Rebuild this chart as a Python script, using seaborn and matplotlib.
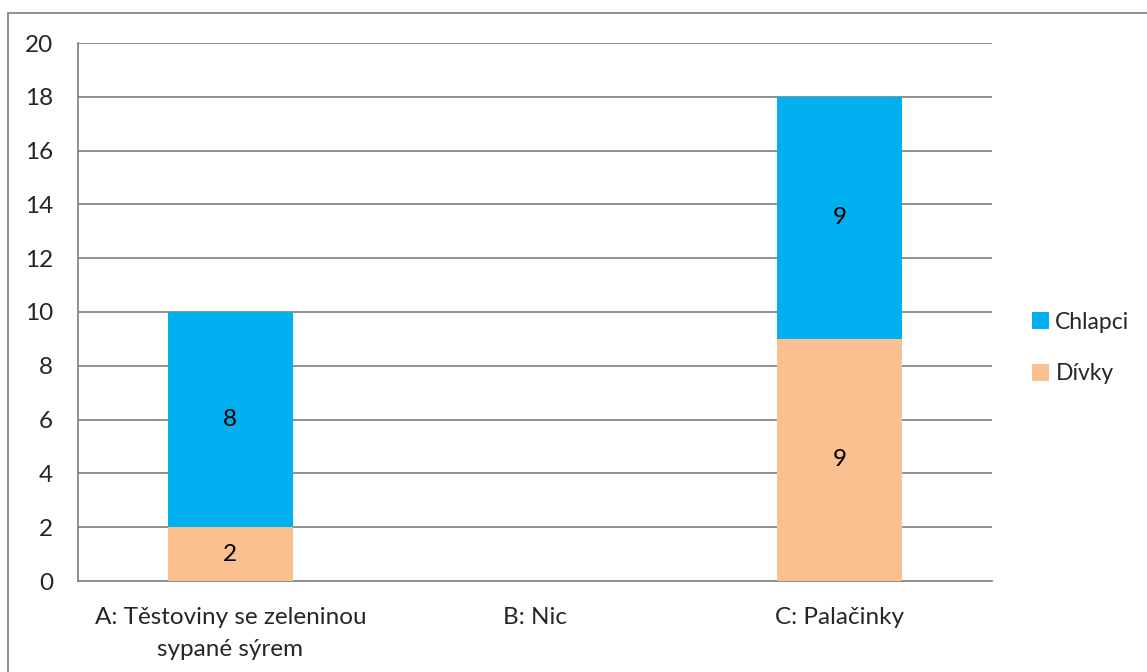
import matplotlib
matplotlib.use("Agg")
import matplotlib.pyplot as plt
from matplotlib.lines import Line2D
from matplotlib.patches import Patch
import seaborn as sns
import pandas as pd

categories = ["A: Těstoviny se zeleninou\nsypané sýrem", "B: Nic", "C: Palačinky"]
divky = [2, 0, 9]
chlapci = [8, 0, 9]
y_ticks = [0, 2, 4, 6, 8, 10, 12, 14, 16, 18, 20]

BLUE = "#00B0F0"
PEACH = "#FAC090"
GRID = "#878787"
FS = 17.5

sns.set_theme(style="white")
plt.rcParams["font.family"] = ["Lato", "DejaVu Sans"]

df = pd.DataFrame({
    "kategorie": categories,
    "Dívky": divky,
    "Chlapci": chlapci,
})
df["celkem"] = df["Dívky"] + df["Chlapci"]

fig = plt.figure(figsize=(11.47, 6.72), dpi=100)
ax = fig.add_axes([78 / 1147, 91 / 672, (992 - 78) / 1147, (581 - 43) / 672])

# stacked bars: total in blue, girls drawn over the lower part
sns.barplot(data=df, x="kategorie", y="celkem", color=BLUE, width=0.41,
            saturation=1, linewidth=0, ax=ax, zorder=3)
sns.barplot(data=df, x="kategorie", y="Dívky", color=PEACH, width=0.41,
            saturation=1, linewidth=0, ax=ax, zorder=3)

for i, (d, c) in enumerate(zip(divky, chlapci)):
    if d:
        ax.text(i, d / 2, str(d), ha="center", va="center", fontsize=FS, color="black", zorder=4)
    if c:
        ax.text(i, d + c / 2, str(c), ha="center", va="center", fontsize=FS, color="black", zorder=4)

ax.set_xlim(-0.5, 2.5)
ax.set_ylim(0, 20)
ax.set_yticks(y_ticks)
ax.set_yticklabels([str(t) for t in y_ticks], fontsize=FS)
ax.yaxis.grid(True, color=GRID, linewidth=1.3, zorder=0)
ax.set_axisbelow(True)
ax.set_xlabel("")
ax.set_ylabel("")

ax.set_xticks([0, 1, 2])
ax.set_xticklabels(categories, fontsize=FS, linespacing=1.6)
ax.set_xticks([-0.5, 0.5, 1.5, 2.5], minor=True)
ax.tick_params(axis="x", which="major", length=0, pad=19)
ax.tick_params(axis="x", which="minor", length=6, width=1.3, color=GRID, direction="out")
ax.tick_params(axis="y", length=7, width=1.3, color=GRID, direction="out", pad=11)

for side in ("top", "right"):
    ax.spines[side].set_visible(False)
for side in ("left", "bottom"):
    ax.spines[side].set_color(GRID)
    ax.spines[side].set_linewidth(1.3)

handles = [Patch(facecolor=BLUE, edgecolor="none", label="Chlapci"),
           Patch(facecolor=PEACH, edgecolor="none", label="Dívky")]
fig.legend(handles=handles, loc="center left", bbox_to_anchor=(1032 / 1147, 1 - 348 / 672),
           frameon=False, fontsize=16.5, borderpad=0, borderaxespad=0,
           handlelength=0.72, handleheight=0.72, handletextpad=0.3, labelspacing=1.35)

# outer chart frame
fig.add_artist(Line2D([8 / 1147, 8 / 1147], [0, 1 - 13 / 672], transform=fig.transFigure,
                      color=GRID, linewidth=1.3))
fig.add_artist(Line2D([8 / 1147, 1], [1 - 13 / 672, 1 - 13 / 672], transform=fig.transFigure,
                      color=GRID, linewidth=1.3))

fig.savefig("out.png", dpi=100, facecolor="white")
